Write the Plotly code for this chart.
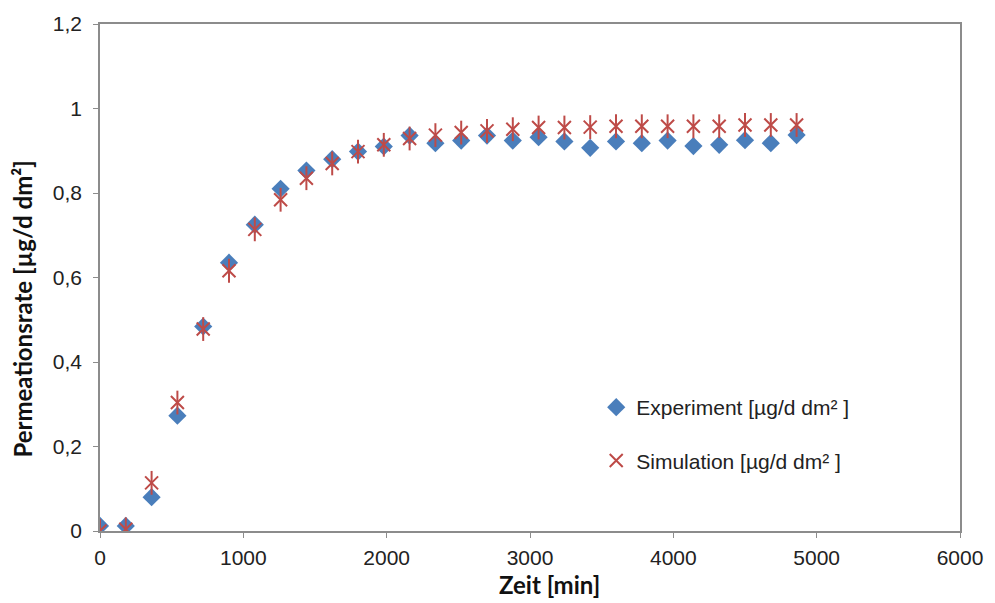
import plotly.graph_objects as go

# Time points [min]
zeit = [0, 180, 360, 540, 720, 900, 1080, 1260, 1440, 1620, 1800, 1980, 2160, 2340,
        2520, 2700, 2880, 3060, 3240, 3420, 3600, 3780, 3960, 4140, 4320, 4500, 4680, 4860]

# Measured permeation rate [µg/d dm²]
experiment = [0.012, 0.012, 0.080, 0.273, 0.484, 0.635, 0.725, 0.810, 0.853, 0.880,
              0.898, 0.910, 0.936, 0.918, 0.924, 0.936, 0.924, 0.932, 0.922, 0.907,
              0.922, 0.918, 0.924, 0.911, 0.914, 0.925, 0.918, 0.937]

# Simulated permeation rate [µg/d dm²]
simulation = [0.000, 0.004, 0.114, 0.304, 0.478, 0.616, 0.714, 0.784, 0.835, 0.870,
              0.898, 0.914, 0.929, 0.937, 0.943, 0.947, 0.951, 0.955, 0.955, 0.956,
              0.958, 0.958, 0.958, 0.958, 0.958, 0.961, 0.961, 0.961]

BLUE = "#4A7EBB"
RED = "#BE4B48"

fig = go.Figure()
fig.add_trace(go.Scatter(
    x=zeit, y=experiment, mode="markers", name="Experiment [µg/d dm² ]",
    legendgroup="exp",
    marker=dict(symbol="diamond", size=14, color=BLUE, line=dict(width=0)),
))
# Simulation marker: an "x" with a vertical stroke through it
fig.add_trace(go.Scatter(
    x=zeit, y=simulation, mode="markers", name="Simulation [µg/d dm² ]",
    legendgroup="sim",
    marker=dict(symbol="x-thin-open", size=13, color=RED,
                line=dict(width=2, color=RED)),
))
fig.add_trace(go.Scatter(
    x=zeit, y=simulation, mode="markers", name="Simulation [µg/d dm² ]",
    legendgroup="sim", showlegend=False,
    marker=dict(symbol="line-ns-open", size=17, color=RED,
                line=dict(width=2, color=RED)),
))

axis_common = dict(
    showline=True, linecolor="#8C8C8C", linewidth=1.5, mirror=True,
    showgrid=False, zeroline=False,
    ticks="outside", ticklen=5, tickcolor="#8C8C8C",
    tickfont=dict(family="Liberation Sans", size=21, color="#222222"),
)

title_font = dict(family="Lato", size=24, color="#111111", weight="bold")

fig.update_layout(
    width=995, height=603,
    margin=dict(l=100, r=32, t=20, b=72),
    paper_bgcolor="white", plot_bgcolor="white",
    separators=", ",
    xaxis=dict(range=[0, 6000], dtick=1000, tick0=0, ticklabelstandoff=2,
               **axis_common),
    yaxis=dict(range=[0, 1.2], dtick=0.2, tick0=0, ticklabelstandoff=7,
               **axis_common),
    annotations=[
        dict(text="Permeationsrate [µg/d dm²]", textangle=-90,
             xref="paper", yref="paper", x=-0.0905, y=0.437,
             xanchor="center", yanchor="middle", showarrow=False,
             font=title_font),
        dict(text="Zeit [min]",
             xref="paper", yref="paper", x=0.5225, y=-0.106,
             xanchor="center", yanchor="middle", showarrow=False,
             font=title_font),
    ],
    legend=dict(
        x=0.577, y=0.284, xanchor="left", yanchor="top",
        bgcolor="rgba(0,0,0,0)", borderwidth=0,
        tracegroupgap=23, itemsizing="trace",
        font=dict(family="Liberation Sans", size=21, color="#222222"),
    ),
    showlegend=True,
)

fig.write_html("out.html")
